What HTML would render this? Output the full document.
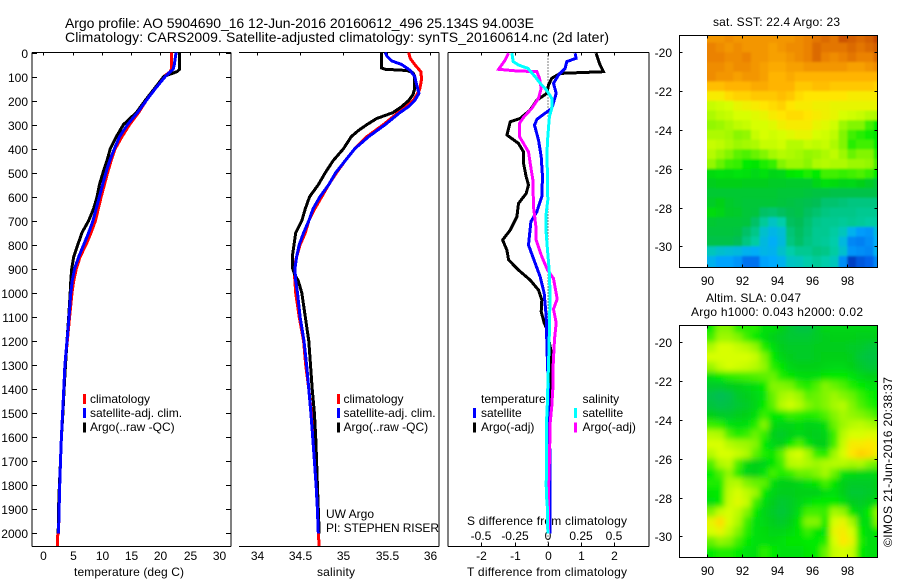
<!DOCTYPE html>
<html>
<head>
<meta charset="utf-8">
<title>Argo profile</title>
<style>
html,body{margin:0;padding:0;background:#fff;width:900px;height:580px;overflow:hidden}
svg{display:block;font-family:"Liberation Sans",sans-serif;fill:#000}
text{font-size:12px}
.t{font-size:14px}
</style>
</head>
<body>
<svg id="fig" xmlns="http://www.w3.org/2000/svg" width="900" height="580" viewBox="0 0 900 580">
<defs>
<clipPath id="clip-sst"><rect x="707" y="35" width="171" height="232"/></clipPath>
<clipPath id="clip-sla"><rect x="707" y="326" width="171" height="231"/></clipPath>
<filter id="soft" filterUnits="userSpaceOnUse" x="680" y="300" width="220" height="280"><feGaussianBlur stdDeviation="3"/></filter>
<filter id="softer" filterUnits="userSpaceOnUse" x="680" y="10" width="220" height="280"><feGaussianBlur stdDeviation="1.1"/></filter>
</defs>
<text class="t" x="65" y="28" textLength="469" lengthAdjust="spacing">Argo profile: AO 5904690_16 12-Jun-2016 20160612_496 25.134S 94.003E</text>
<text class="t" x="65" y="42" textLength="544" lengthAdjust="spacing">Climatology: CARS2009. Satellite-adjusted climatology: synTS_20160614.nc (2d later)</text>

<text x="74" y="576" textLength="110" lengthAdjust="spacing">temperature (deg C)</text>
<text x="317" y="576" textLength="38" lengthAdjust="spacing">salinity</text>
<text x="467" y="576" textLength="160" lengthAdjust="spacing">T difference from climatology</text>
<text x="467" y="525" textLength="160" lengthAdjust="spacing">S difference from climatology</text>
<text x="326" y="518">UW Argo</text>
<text x="326" y="532" textLength="113" lengthAdjust="spacing">PI: STEPHEN RISER</text>

<text x="713" y="26" textLength="127" lengthAdjust="spacing">sat. SST: 22.4 Argo: 23</text>
<text x="706" y="302" textLength="95" lengthAdjust="spacing">Altim. SLA: 0.047</text>
<text x="691" y="316" textLength="172" lengthAdjust="spacing">Argo h1000: 0.043 h2000: 0.02</text>
<text transform="translate(892,547) rotate(-90)" textLength="170" lengthAdjust="spacing">©IMOS 21-Jun-2016 20:38:37</text>
<g id="layer"></g>
</svg>
<script>
// ---- shared tick labels ----
const depthTicks = [0,100,200,300,400,500,600,700,800,900,1000,1100,1200,1300,1400,1500,1600,1700,1800,1900,2000];
const tempTicks = [0,5,10,15,20,25,30];
const salTicks = [34,34.5,35,35.5,36];
const dTTicks = [-2,-1,0,1,2];
const dSTicks = [-0.5,-0.25,0,0.25,0.5];
const lonTicks = [90,92,94,96,98];
const latTicks = [-20,-22,-24,-26,-28,-30];

// ---- temperature panel: depth (dbar), value (deg C) ----
const tempClimDepth = [0,70,80,100,150,200,250,300,350,400,450,500,600,700,750,800,850,900,950,1000,1100,1200,1300,1400,1500,1600,1700,1800,1900,2000,2010,2053];
const tempClim = [21.9,21.9,21.7,20.6,19,17.6,16.3,14.75,13.45,12.3,11.6,11,9.9,8.9,8.15,7.3,6.3,5.65,5.2,4.9,4.5,4.1,3.75,3.5,3.3,3.1,2.95,2.8,2.7,2.6,2.45,2.45];
const tempSatDepth = [0,50,70,85,100,150,200,250,300,350,400,450,500,600,700,750,800,850,900,950,1000,1100,1200,1300,1400,1500,1600,1700,1800,1900,2000];
const tempSat = [22.7,22.4,22.2,21.5,20.85,19.15,17.6,16.1,14.4,13.05,12.15,11.35,10.7,9.6,8.5,7.75,6.9,6.05,5.35,4.95,4.7,4.4,4.05,3.7,3.5,3.3,3.1,2.95,2.8,2.7,2.6];
const tempArgoDepth = [0,70,80,90,100,150,200,250,300,350,400,450,500,550,600,650,700,750,800,850,900,950,1000,1100,1200,1300,1400,1500,1600,1700,1800,1900,2000];
const tempArgo = [23.3,23.3,22.85,21.7,20.6,19,17.4,15.9,13.7,12.5,11.45,10.9,10.2,9.6,9.2,8.6,7.75,6.6,5.9,5.2,4.85,4.7,4.6,4.35,4.05,3.8,3.55,3.35,3.1,2.95,2.75,2.6,2.55];

// ---- salinity panel ----
const salClimDepth = [0,25,50,80,110,150,180,200,225,250,300,350,400,450,500,550,600,650,700,750,800,850,900,950,1000,1100,1200,1300,1400,1500,1600,1700,1800,1900,2000,2053];
const salClim = [35.75,35.77,35.82,35.89,35.9,35.88,35.84,35.8,35.71,35.63,35.46,35.27,35.13,35.02,34.92,34.83,34.75,34.67,34.6,34.56,34.5,34.46,34.43,34.44,34.45,34.49,34.54,34.565,34.6,34.63,34.645,34.665,34.685,34.7,34.71,34.72];
const salSatDepth = [0,15,35,50,75,100,130,170,200,225,250,300,350,400,450,500,550,600,650,700,750,800,850,900,950,1000,1100,1200,1300,1400,1500,1600,1700,1800,1900,2000];
const salSat = [35.48,35.5,35.555,35.67,35.77,35.82,35.84,35.87,35.82,35.75,35.65,35.48,35.29,35.13,35.02,34.91,34.83,34.73,34.65,34.6,34.54,34.49,34.46,34.44,34.45,34.47,34.5,34.545,34.575,34.6,34.625,34.645,34.665,34.685,34.7,34.71];
const salArgoDepth = [0,65,70,75,85,100,150,175,200,225,250,275,300,325,350,400,450,500,550,600,650,700,750,800,850,900,925,950,1000,1100,1200,1300,1400,1500,1600,1700,1800,1900,2000];
const salArgo = [35.44,35.44,35.48,35.73,35.8,35.82,35.82,35.8,35.75,35.67,35.57,35.38,35.27,35.17,35.09,35,34.88,34.79,34.71,34.61,34.56,34.52,34.45,34.43,34.41,34.415,34.44,34.48,34.52,34.56,34.6,34.62,34.64,34.665,34.68,34.69,34.7,34.71,34.72];

// ---- difference panel ----
const dTSatDepth = [3,24,38,66,94,128,170,232,278,302,364,433,517,600,662,704,801,877,933,1002,1100,1200,1300,1400,1500,1700,1900,2000];
const dTSat = [0.82,0.85,0.57,0.52,0.32,0.17,0.25,0.12,-0.33,-0.4,-0.28,-0.2,-0.16,-0.18,-0.33,-0.51,-0.58,-0.38,-0.23,-0.11,-0.05,-0.03,-0.01,0.02,0.02,0.07,0.07,0.07];
const dTArgoDepth = [3,45,80,87,107,135,170,198,239,274,288,316,343,378,413,461,517,551,586,628,683,739,780,822,863,905,947,988,1030,1078,1125,1150,1260,1300,1400,1500,2000];
const dTArgo = [1.45,1.55,1.67,0.37,0.12,0.02,-0.03,-0.33,-0.53,-0.83,-1.13,-1.18,-1.23,-0.88,-0.73,-0.73,-0.65,-0.58,-0.65,-0.88,-0.93,-1.13,-1.36,-1.23,-1.18,-0.88,-0.53,-0.28,-0.18,-0.2,-0.11,-0.03,0.12,0.1,0.07,0.05,0.05];
const dSSatDepth = [3,38,52,66,101,128,156,191,232,267,350,420,517,614,683,752,822,905,1016,1030,1100,1200,1300,1390,1450,1500,1600,1700,1800,1845,1900,2000];
const dSSat = [-0.27,-0.26,-0.22,-0.15,-0.095,-0.057,-0.01,0.03,0.03,0.012,0,-0.007,-0.0025,0,-0.015,-0.0125,-0.0025,0.01,0.0175,0.0175,0.0125,0.01,0.005,0,-0.0025,-0.0075,-0.01,-0.01,-0.0125,-0.01,-0.0025,0];
const dSArgoDepth = [3,31,70,76,80,107,149,191,232,270,295,350,378,413,461,531,642,725,780,849,905,940,1016,1030,1068,1125,1193,1330,1400,1470,1540,1680,1815,1950,2000];
const dSArgo = [-0.295,-0.32,-0.37,-0.245,-0.0825,-0.0625,-0.05,-0.07,-0.12,-0.1825,-0.2125,-0.2125,-0.1825,-0.145,-0.1325,-0.1125,-0.1075,-0.09,-0.0875,-0.045,-0.0025,0.0425,0.0675,0.0675,0.0425,0.0625,0.05,0.0375,0.0375,0.03,0.0175,0.0125,0.005,0.005,0.005];

// ---- maps: colour-scale levels per 0.5 degree cell, north to south, 90E to 100E ----
const sstGrid = [
[9.3,9.3,9.4,9.3,9.3,9.3,9.3,9.3,9.3,9.3,9.4,9.5,9.6,9.7,9.6,9.9,9.8,9.7,9.8,10],
[9.5,9.4,9.3,9.4,9.3,9.3,9.3,9.2,9.3,9.4,9.4,9.5,9.7,9.6,9.6,9.6,9.7,9.6,9.7,9.8],
[9.5,9.5,9.4,9.4,9.5,9.3,9.3,9.2,9.2,9.3,9.4,9.5,9.7,9.5,9.4,9.5,9.6,9.5,9.5,9.7],
[9.4,9.4,9.3,9.4,9.4,9.3,9.2,9.1,9.1,9.2,9.2,9.3,9.3,9.3,9.3,9.3,9.2,9.2,9.3,9.4],
[9.4,9.3,9.3,9.2,9.3,9.3,9.2,9,9,9.1,9,9,9,9,9,9,9,9,9,9],
[8.9,8.9,9,9,9,9.1,9.1,9,9,9,8.8,8.8,8.9,8.9,8.8,8.8,8.8,8.8,8.8,8.7],
[8.4,8.4,8.6,8.7,8.7,8.8,8.8,8.8,8.9,8.8,8.6,8.5,8.5,8.5,8.5,8.5,8.4,8.4,8.4,8.4],
[7.8,7.9,8,8.2,8.3,8.4,8.5,8.6,8.7,8.5,8.4,8.4,8.3,8.3,8.2,8.2,8.2,8.2,8.2,8.2],
[7.5,7.7,7.8,8,8,8.1,8.2,8.4,8.5,8.6,8.6,8.5,8.4,8.3,8.2,8,7.9,7.8,7.6,7.5],
[7.2,7.3,7.5,7.7,7.8,8,8,8.1,8.3,8.4,8.4,8.4,8.2,8.1,7.9,7.3,7,7,6.5,6],
[7.5,7.5,7.4,7.1,7.2,7.8,8,7.9,8,8.1,8.2,8.2,8,7.9,7.7,7,6.5,6.3,6.1,5.8],
[7.8,7.7,7.5,7.3,7.4,7.5,7.8,7.8,7.9,7.6,7.6,7.8,7.7,7.8,7.5,7,6.3,6.5,6.5,6],
[7.6,7.3,7,6.7,6.6,6.8,7,7.4,7.6,7.5,7.4,7.2,7.3,7.5,7.7,7.3,6.8,7,7,6.3],
[7.2,6.8,6.5,6.4,6,5.8,6.2,6.4,7,7.3,7.3,7.1,7.5,7.6,7.5,7.5,7.3,7.3,7.2,6.6],
[5.4,5.6,5.5,5.7,5.6,5.3,5.6,5.2,5.3,5.8,6,6.2,6,6.5,6.5,6.4,6.5,6.6,6.4,6],
[4.9,5,5,5,4.9,4.9,4.9,4.8,4.8,4.7,4.7,4.7,5.2,5.6,5.4,5.2,5.3,5,4.8,4.5],
[4.6,4.6,4.6,4.6,4.6,4.6,4.6,4.6,4.5,4.5,4.5,4.4,4.3,4.3,4.2,4.2,4.2,4.2,4.2,4.2],
[4.8,5,4.7,4.6,4.5,4.5,4.5,4.5,4.4,4.3,4.2,4.1,4,3.7,3.7,3.6,3.5,3.5,3.5,3.5],
[5.4,5.2,4.8,4.7,4.5,4.4,3.8,3.7,3.9,4.1,4.2,3.9,3.7,3.5,3.4,3.4,3.4,3.3,3.3,3.3],
[4.6,4.5,4.5,4.5,4.4,3.8,3.2,2.7,3,3.9,4,3.7,3.4,3.3,3.3,3.2,3.3,3.2,3.1,3.1],
[4.4,4.4,4.4,4.3,3.8,3.4,2.6,2.3,2.5,3.6,3.9,3.6,3.3,3.3,3.1,2.8,2.2,1.8,1.7,2.4],
[4.2,4.2,4.2,4,3.5,3.1,2.4,2.1,2.4,3.5,3.8,3.5,3.3,3.2,3,2.4,1.5,1.4,1.6,2.1],
[2.8,2.6,2.5,2.4,2.2,2.1,2.3,2.2,2.6,3,3.3,3.3,3.5,3.4,3.1,2.6,1.7,1.6,1.5,2.2],
[2.2,1.9,1.9,1.7,1.2,1.2,1.9,2,2.2,2.7,2.8,3,3.2,3,2.8,1.6,0.4,0.8,1,1.5]
];
const slaGrid = [
[6,7,7,6.3,6.3,6.3,5.5,5.5,5,4.6,4.3,4.3,4.8,5.2,5.2,5.2,5.2,5.2,5.2,5.2],
[6.5,7.3,7.3,7,6.5,6,5.5,5,4.8,4.6,4.6,4.6,4.8,4.9,5,5,5,4.9,4.9,5],
[7.5,8,8,7.8,7.6,7.2,6.2,5.6,4.9,4.8,4.8,4.8,4.9,4.9,4.9,4.9,4.8,4.7,4.5,4.5],
[8,8,8,8,8,7.8,7,6,5.2,4.9,4.8,4.8,4.9,5,5,5,4.9,4.5,4.3,4.4],
[7.3,7.8,8,7.9,7.8,7.6,7.2,6.3,5.8,5.2,5,5,5,5.2,5.3,5.3,5,4.7,4.5,4.6],
[5.6,6,6.3,6.4,6.5,6.6,6.7,6.8,6.2,5.8,5.5,5.4,5.5,5.8,6,6,5.7,5.3,5,5],
[4.7,4.7,4.9,5,5.3,5.5,6,7,7,6.9,6.4,6.2,6.6,7,6.8,6.6,6.2,6,5.7,5.7],
[4.2,4,4.2,4.7,4.9,5.3,5.7,6.8,7.4,7.6,7.3,6.7,6.8,7,7.3,7,6.8,6.4,6.1,6],
[4.4,4.2,4.3,4.6,4.8,5.2,6,6.7,7.6,7.9,7.6,7,6.8,7,7.4,7.6,7,6.6,6.3,6],
[5,4.8,4.7,4.9,5,5.5,6.4,6,6,6.4,6.3,6.2,6.3,6.6,7,7.4,7.2,7,6.8,6.4],
[6.4,6.3,5.7,5.5,5.6,6.2,7,5.4,5.2,5.2,5.4,5.1,5.2,5.5,6.8,7.3,7.6,7.7,7.5,7.3],
[7.6,7.5,6.6,6.2,6.4,6.8,6.4,5,4.8,5,5.3,5,4.9,5.2,6.4,7.6,8,8,8.1,8],
[8,8,7.6,7.4,7.3,7,6,5.3,5,6,6.6,5.7,5,5,6.5,7.8,8.4,8.4,8.5,8.3],
[7.6,8,8,7.8,7.5,6.7,6.2,5.8,6.7,7.8,8,7.4,6.4,6.2,7.3,8,8.5,8.7,8.6,8.3],
[6.6,7.5,7.7,6.6,5.4,5,5.2,5.8,6.5,7.6,7.7,7.5,7.3,7.5,7.6,7.6,7.4,7.5,7,6.8],
[6,6.6,7.2,6.3,5.2,5,5.7,6.5,6.2,6.4,6.8,6.8,7,7.4,6.8,5.7,5.4,5.3,5.3,5.4],
[6.2,6.2,7.5,7.6,7,6.8,6.7,5.5,5,5,5.2,5.6,5.8,6.5,5.8,5,4.8,4.8,4.8,5],
[5.8,6,7.7,8,7.7,7.3,6,5.2,4.9,4.9,5,5,5,5.5,5.6,5,4.6,4.6,4.7,5],
[5.6,6,7.8,8.1,7.8,6.5,5.5,4.9,4.6,4.8,5.2,5.6,6,6,6,5.6,4.9,4.8,5,5.5],
[7,7.8,8,7.7,7,6,5.2,4.8,4.5,4.8,5.5,6.5,6.5,6.4,7.4,7.2,5.8,5.2,6,7.2],
[8.2,8.6,8,7.5,6.5,5.6,5.3,4.9,4.7,5,5.8,7,7,6,8,8.2,7.4,5.5,5.5,7],
[8,8.2,7.7,7,6.3,5.6,5.4,5.2,5.2,5.4,5.8,6.4,5.8,5.7,8.2,8.4,8,6,5.4,6],
[6.8,7.2,7,6.5,6,5.6,5.5,5.4,5.6,5.8,5.8,6,6,6.2,8,8.5,8.2,6.2,5.5,5.5],
[6,6.2,6.2,6,5.7,5.5,6.3,6,5.6,5.6,5.6,5.8,6,6.8,7.8,8,7.8,6,5.5,5.5]
];

const SVGNS = 'http://www.w3.org/2000/svg';
const layer = document.getElementById('layer');
function make(tag, attrs, parent) {
  const el = document.createElementNS(SVGNS, tag);
  for (const k in attrs) el.setAttribute(k, attrs[k]);
  (parent || layer).appendChild(el);
  return el;
}
function linear(d0, d1, r0, r1) {
  return function (v) { return r0 + (v - d0) * (r1 - r0) / (d1 - d0); };
}
const Y = linear(0, 2053, 52.5, 546);
const XT = linear(-1.93, 32.09, 32, 231);
const XS = linear(33.8, 36.1, 239.3, 439);
const XD = linear(-3, 3.04, 448, 649);
const XDS = linear(-0.75, 0.76, 448, 649);

const MAIN_TICK = 5;
function hline(x1, x2, y, parent) {
  return make('line', {x1: x1, x2: x2, y1: y, y2: y, stroke: '#000', 'stroke-width': 1, 'shape-rendering': 'crispEdges'}, parent);
}
function vline(x, y1, y2, parent) {
  return make('line', {x1: x, x2: x, y1: y1, y2: y2, stroke: '#000', 'stroke-width': 1, 'shape-rendering': 'crispEdges'}, parent);
}

function drawSeries(xs, depths, vals, colour, width) {
  const pts = vals.map(function (v, i) { return xs(v).toFixed(1) + ',' + Y(depths[i]).toFixed(1); }).join(' ');
  return make('polyline', {points: pts, fill: 'none', stroke: colour, 'stroke-width': width, 'stroke-linejoin': 'miter', 'shape-rendering': 'crispEdges'});
}

// ---- axes frames ----
const TOP = 52.5, BOT = 546.5;
let el;
el = hline(32, 231, TOP);


el = hline(32, 231, BOT);


el = vline(32, TOP, BOT);


el = vline(231, TOP, BOT);


el = hline(239, 439, TOP);


el = hline(239, 439, BOT);


el = vline(439, TOP, BOT);


el = hline(448, 649, TOP);


el = hline(448, 649, BOT);


el = vline(448, TOP, BOT);


el = vline(649, TOP, BOT);



// ---- depth ticks and labels ----
depthTicks.forEach(function (d) {
  const y = Math.round(Y(d)) + 0.5;
  let t = hline(32, 32 + MAIN_TICK, y);
  
  
  t = hline(231 - MAIN_TICK, 231, y);
  
  
  const lab = make('text', {x: 28, y: y + 4.5, 'text-anchor': 'end'});
  lab.textContent = String(d);
  
  
});

// ---- x ticks ----
tempTicks.forEach(function (v) {
  const x = Math.round(XT(v)) + 0.5;
  const t = vline(x, TOP, TOP + 3);
  
  
  const lab = make('text', {x: x, y: 560, 'text-anchor': 'middle'});
  lab.textContent = String(v);
  
  
});
salTicks.forEach(function (v) {
  const x = Math.round(XS(v)) + 0.5;
  const t = vline(x, TOP, TOP + 3);
  
  
  const lab = make('text', {x: x, y: 560, 'text-anchor': 'middle'});
  lab.textContent = String(v);
  
  
});
dTTicks.forEach(function (v) {
  const x = Math.round(XD(v)) + 0.5;
  let t = vline(x, TOP, TOP + 3);
  
  
  t = vline(x, BOT - 4, BOT);
  
  
  const lab = make('text', {x: x, y: 560, 'text-anchor': 'middle'});
  lab.textContent = String(v);
  
  
});
dSTicks.forEach(function (v) {
  const lab = make('text', {x: Math.round(XDS(v)), y: 540, 'text-anchor': 'middle'});
  lab.textContent = String(v);
  
  
});

// ---- zero line ----
const zero = make('line', {x1: XD(0), x2: XD(0), y1: TOP, y2: BOT, stroke: '#000', 'stroke-width': 1, 'stroke-dasharray': '1 2', 'shape-rendering': 'crispEdges'});



// ---- series ----
let s;
s = drawSeries(XT, tempClimDepth, tempClim, '#ff0000', 3);


s = drawSeries(XT, tempArgoDepth, tempArgo, '#000000', 3);


s = drawSeries(XT, tempSatDepth, tempSat, '#0000ff', 3);


s = drawSeries(XS, salClimDepth, salClim, '#ff0000', 3);


s = drawSeries(XS, salArgoDepth, salArgo, '#000000', 3);


s = drawSeries(XS, salSatDepth, salSat, '#0000ff', 3);


s = drawSeries(XD, dTArgoDepth, dTArgo, '#000000', 3);


s = drawSeries(XD, dTSatDepth, dTSat, '#0000ff', 3);


s = drawSeries(XDS, dSArgoDepth, dSArgo, '#ff00ff', 3);


s = drawSeries(XDS, dSSatDepth, dSSat, '#00ffff', 3);



// ---- legends ----
function legendEntry(bx, tx, row, colour, str) {
  const tops = [394, 408, 422.5];
  const bases = [403, 417, 431];
  const g = make('g', {});
  make('rect', {x: bx, y: tops[row], width: 3, height: 10, fill: colour, 'shape-rendering': 'crispEdges'}, g);
  const t = make('text', {x: tx, y: bases[row]}, g);
  t.textContent = str;
  return g;
}
let lg;
lg = legendEntry(83, 90, 0, '#ff0000', 'climatology');


lg = legendEntry(83, 90, 1, '#0000ff', 'satellite-adj. clim.');


lg = legendEntry(83, 90, 2, '#000000', 'Argo(..raw -QC)');


lg = legendEntry(337, 343.5, 0, '#ff0000', 'climatology');


lg = legendEntry(337, 343.5, 1, '#0000ff', 'satellite-adj. clim.');


lg = legendEntry(337, 343.5, 2, '#000000', 'Argo(..raw -QC)');


lg = legendEntry(473, 481, 1, '#0000ff', 'satellite');


lg = legendEntry(473, 481, 2, '#000000', 'Argo(-adj)');


lg = legendEntry(574, 582.5, 1, '#00ffff', 'satellite');


lg = legendEntry(574, 582.5, 2, '#ff00ff', 'Argo(-adj)');


const hdrT = make('text', {x: 481, y: 403});
hdrT.textContent = 'temperature';


const hdrS = make('text', {x: 582.5, y: 403});
hdrS.textContent = 'salinity';



// ---- map colours ----
const cmapLevels = [0,1,2,3,4,5,6,7,8,8.5,9,9.5,10];
const cmapColours = [[0,40,170],[0,100,235],[0,170,255],[0,205,170],[0,190,85],[0,208,25],[0,235,0],[130,245,0],[215,255,0],[255,230,0],[255,180,0],[235,130,0],[195,70,0]];
function colourOf(v) {
  let i = 0;
  while (i < cmapLevels.length - 2 && v > cmapLevels[i + 1]) i++;
  const f = Math.max(0, Math.min(1, (v - cmapLevels[i]) / (cmapLevels[i + 1] - cmapLevels[i])));
  const a = cmapColours[i], b = cmapColours[i + 1];
  return 'rgb(' + Math.round(a[0] + (b[0] - a[0]) * f) + ',' + Math.round(a[1] + (b[1] - a[1]) * f) + ',' + Math.round(a[2] + (b[2] - a[2]) * f) + ')';
}

const MAP_BLEED = 12;
function drawMap(grid, lonScale, latScale, clip, filter) {
  const outer = make('g', {'clip-path': 'url(#' + clip + ')'});
  const g = make('g', {filter: 'url(#' + filter + ')'}, outer);
  grid.forEach(function (row, r) {
    row.forEach(function (v, c) {
      const lon0 = 90 + c * 0.5, lat0 = -19 - r * 0.5;
      let x0 = lonScale(lon0), x1 = lonScale(lon0 + 0.5);
      let y0 = latScale(lat0), y1 = latScale(lat0 - 0.5);
      if (c === 0) x0 -= MAP_BLEED;
      if (c === row.length - 1) x1 += MAP_BLEED;
      if (r === 0) y0 -= MAP_BLEED;
      if (r === grid.length - 1) y1 += MAP_BLEED;
      const cell = make('rect', {x: x0.toFixed(2), y: y0.toFixed(2), width: (x1 - x0 + 0.5).toFixed(2), height: (y1 - y0 + 0.5).toFixed(2), fill: colourOf(v)}, g);
      
      
    });
  });
  return outer;
}

const lonX = linear(90, 98, 707, 847.3);
const latSST = linear(-20, -30, 52.3, 246.3);
const latSLA = linear(-20, -30, 342.3, 536.3);
let mp;
mp = drawMap(sstGrid, lonX, latSST, 'clip-sst', 'softer');


mp = drawMap(slaGrid, lonX, latSLA, 'clip-sla', 'soft');



function mapFrame(top, bottom, latScale, xLabelY, name) {
  const g = make('g', {});
  
  
  make('rect', {x: 679.5, y: top, width: 198, height: bottom - top, fill: 'none', stroke: '#000', 'stroke-width': 1, 'shape-rendering': 'crispEdges'}, g);
  lonTicks.forEach(function (v) {
    const x = Math.round(lonX(v)) + 0.5;
    vline(x, top, top + 3, g);
    vline(x, bottom - 3, bottom, g);
    const lab = make('text', {x: x, y: xLabelY, 'text-anchor': 'middle'}, g);
    lab.textContent = String(v);
  });
  latTicks.forEach(function (v) {
    const y = Math.round(latScale(v)) + 0.5;
    hline(679.5, 682.5, y, g);
    hline(874.5, 877.5, y, g);
    const lab = make('text', {x: 672, y: y + 4.5, 'text-anchor': 'end'}, g);
    lab.textContent = String(v);
  });
  return g;
}
mapFrame(35.5, 267.5, latSST, 285, 'sst-map-axes');
mapFrame(325.5, 557.5, latSLA, 575, 'sla-map-axes');
</script>
</body>
</html>
